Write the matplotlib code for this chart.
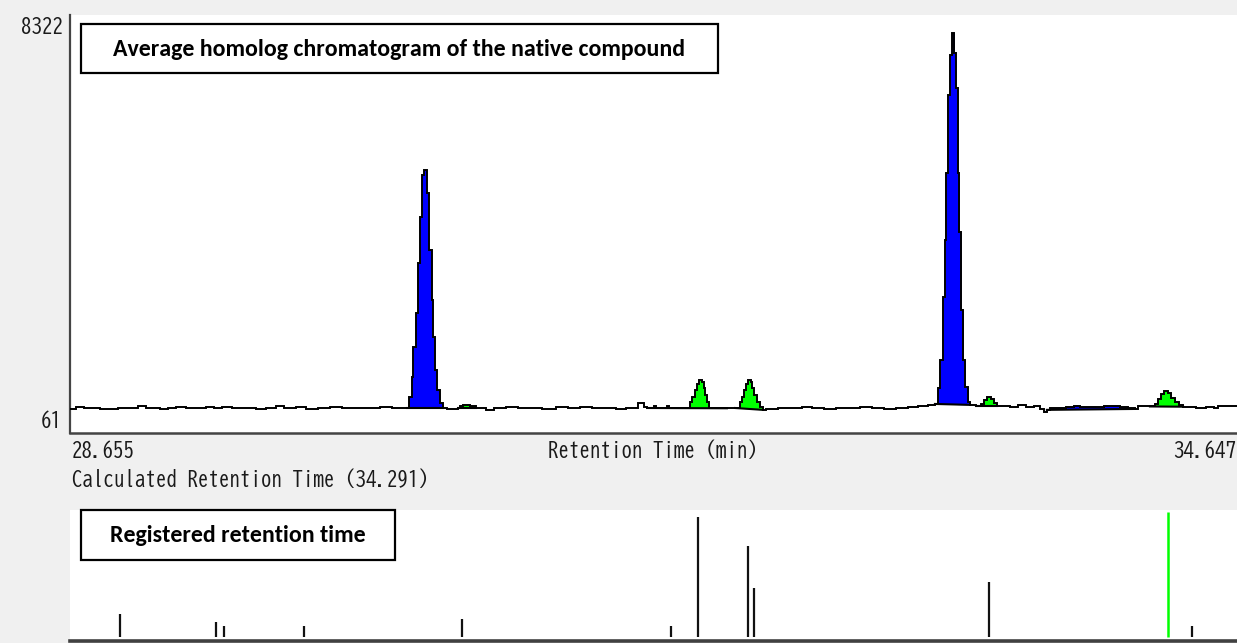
import numpy as np
import matplotlib
matplotlib.use("Agg")
import matplotlib.pyplot as plt
from matplotlib.patches import Rectangle

# ---------------- data ----------------
# averaged homolog chromatogram (step samples: retention time [min], intensity)
rt = [28.655, 28.686, 28.727, 28.809, 28.901, 28.963, 29.004, 29.045, 29.117, 29.158,
      29.199, 29.251, 29.302, 29.353, 29.394, 29.435, 29.487, 29.548, 29.610, 29.661,
      29.713, 29.754, 29.815, 29.867, 29.928, 29.990, 30.052, 30.123, 30.185, 30.247,
      30.308,
      30.384, 30.396, 30.410, 30.418, 30.430, 30.440, 30.452, 30.461, 30.473, 30.486,
      30.500, 30.512, 30.520, 30.529, 30.541, 30.555, 30.570,
      30.591, 30.647, 30.657, 30.673, 30.709, 30.740, 30.791, 30.832, 30.894, 30.955,
      31.017, 31.078, 31.150, 31.212, 31.274, 31.335, 31.397, 31.458, 31.510, 31.572,
      31.602, 31.618, 31.653, 31.664, 31.720, 31.730,
      31.828, 31.838, 31.851, 31.864, 31.874, 31.885, 31.900, 31.908, 31.915, 31.926,
      31.936, 32.028,
      32.070, 32.095, 32.105, 32.116, 32.126, 32.136, 32.152, 32.159, 32.167, 32.183,
      32.198, 32.213,
      32.229, 32.290, 32.352, 32.413, 32.465, 32.526, 32.588, 32.650, 32.711, 32.773,
      32.835, 32.896, 32.958, 33.009, 33.060,
      33.096, 33.110, 33.122, 33.136, 33.148, 33.153, 33.165, 33.173, 33.184, 33.196,
      33.203, 33.212, 33.222, 33.230, 33.242, 33.251, 33.268, 33.276,
      33.307, 33.333, 33.348, 33.363, 33.384, 33.399, 33.415,
      33.481, 33.522, 33.563, 33.604, 33.635, 33.656,
      33.671, 33.687, 33.728, 33.769, 33.810, 33.841, 33.882, 33.923, 33.964, 34.005,
      34.046, 34.087, 34.123,
      34.138, 34.200, 34.226, 34.241, 34.257, 34.272, 34.293, 34.308, 34.329, 34.349,
      34.370, 34.405, 34.436, 34.488, 34.529, 34.549, 34.590, 34.647]
intensity = [40, 90, 60, 45, 50, 70, 95, 60, 40, 55,
             85, 65, 60, 90, 55, 85, 50, 65, 35, 70,
             95, 60, 75, 45, 60, 90, 55, 70, 50, 80,
             55,
             61, 303, 744, 1405, 2154, 3255, 4269, 5194, 5304, 4797,
             3542, 2440, 1625, 898, 458, 171, 61,
             45, 61, 95, 120, 110, 61, 25, 60, 80, 55,
             70, 45, 75, 60, 90, 55, 70, 40, 60, 165,
             80, 61, 95, 61, 95, 61,
             61, 193, 303, 458, 590, 678, 634, 502, 347, 193,
             61, 55,
             61, 193, 303, 458, 590, 678, 634, 502, 347, 193,
             80, 20,
             45, 70, 50, 80, 60, 45, 70, 55, 85, 60,
             40, 65, 85, 110, 125,
             150, 502, 1118, 2506, 3762, 5238, 6957, 7838, 8322, 7882,
             7111, 5238, 3938, 2220, 1118, 524, 193, 130,
             105, 150, 240, 310, 260, 170, 105,
             85, 120, 80, 110, 40, -30,
             20, 60, 70, 85, 100, 80, 90, 75, 95, 100,
             85, 60, 40,
             110, 95, 150, 250, 380, 442, 400, 290, 200, 130,
             90, 80, 60, 90, 70, 110, 115, 115]

# integrated peak windows
region_start = [30.384, 30.647, 31.618, 32.070, 33.096, 33.307, 33.671, 34.200]
region_end = [30.570, 30.740, 32.028, 32.213, 33.276, 33.415, 34.123, 34.370]
region_kind = ["native", "other", "other", "other", "native", "other", "native", "other"]

# registered retention times (relative height, %)
ref_rt = [28.912, 29.403, 29.446, 29.858, 30.669, 31.739, 31.881, 32.138, 32.169, 33.372, 34.418]
ref_height = [18.2, 12.2, 9.1, 9.1, 14.3, 9.1, 93.8, 71.6, 38.8, 43.4, 8.8]
calc_rt = 34.291
calc_height = 98.1

x_min, x_max = 28.655, 34.647
y_min_label, y_max_label = 61, 8322

# ---------------- figure ----------------
W, H = 1237, 643
DPI = 100
BG = "#f0f0f0"
BLUE = "#0000ff"
GREEN = "#00ff00"
TXT = "#1a1a1a"

fig = plt.figure(figsize=(W / DPI, H / DPI), dpi=DPI, facecolor=BG)


def fx(x):
    return x / W


def fy(y):
    return 1 - y / H


# top panel
ax = fig.add_axes([fx(70), fy(433), fx(1237) - fx(70), fy(15) - fy(433)])
ax.set_facecolor("white")
ax.set_xlim(x_min, x_max)
px_per_unit = (408 - 33) / (y_max_label - y_min_label)
ax.set_ylim(y_min_label - 25 / px_per_unit, y_max_label + 18 / px_per_unit)

t = np.asarray(rt, float)
v = np.asarray(intensity, float)
xs = np.repeat(t, 2)[1:]
ys = np.repeat(v, 2)[:-1]


def level_at(time):
    i = np.searchsorted(t, time + 1e-9, side="right") - 1
    return v[max(i, 0)]


for s, e, k in zip(region_start, region_end, region_kind):
    m = (xs >= s - 1e-9) & (xs <= e + 1e-9)
    xm, ym = xs[m], ys[m]
    base = np.interp(xm, [s, e], [level_at(s), level_at(e)])
    ax.fill_between(xm, base, ym, where=ym >= base, interpolate=True,
                    color=BLUE if k == "native" else GREEN, lw=0, zorder=2)
    ax.plot([s, e], [level_at(s), level_at(e)], color="black", lw=1.5, zorder=3)

ax.plot(xs, ys, color="black", lw=1.4, zorder=4, solid_joinstyle="miter")

for sp in ["top", "right"]:
    ax.spines[sp].set_visible(False)
ax.spines["left"].set_color("#444444")
ax.spines["left"].set_linewidth(1.6)
ax.spines["bottom"].set_color("#444444")
ax.spines["bottom"].set_linewidth(1.8)
ax.set_xticks([])
ax.set_yticks([])

# bottom panel
ax2 = fig.add_axes([fx(70), fy(641), fx(1237) - fx(70), fy(509.5) - fy(641)])
ax2.set_facecolor("white")
ax2.set_xlim(x_min, x_max)
ax2.set_ylim(-3.7 / 1.28, 100)
ax2.vlines(ref_rt, 0, ref_height, color="#111111", lw=1.6)
ax2.vlines([calc_rt], 0, [calc_height], color=GREEN, lw=1.8)
for sp in ["top", "right", "left"]:
    ax2.spines[sp].set_visible(False)
ax2.spines["bottom"].set_color("#404040")
ax2.spines["bottom"].set_linewidth(2.6)
ax2.set_xticks([])
ax2.set_yticks([])

# axis texts
lab_font = ["BIZ UDGothic", "DejaVu Sans"]
fs = 15
fig.text(fx(63), fy(25.5), f"{y_max_label}", ha="right", va="center", fontsize=fs,
         family=lab_font, color=TXT)
fig.text(fx(62), fy(419), f"{y_min_label}", ha="right", va="center", fontsize=fs,
         family=lab_font, color=TXT)
fig.text(fx(72), fy(449), f"{x_min:.3f}", ha="left", va="center", fontsize=fs,
         family=lab_font, color=TXT)
fig.text(fx(1236), fy(449), f"{x_max:.3f}", ha="right", va="center", fontsize=fs,
         family=lab_font, color=TXT)
fig.text(fx(653), fy(449), "Retention Time (min)", ha="center", va="center",
         fontsize=fs, family=lab_font, color=TXT)
fig.text(fx(72), fy(478), f"Calculated Retention Time ({calc_rt:.3f})", ha="left",
         va="center", fontsize=fs, family=lab_font, color=TXT)

# annotation boxes
box_font = ["Carlito", "DejaVu Sans"]
fig.add_artist(Rectangle((fx(81), fy(72.7)), fx(718) - fx(81), fy(24) - fy(72.7),
                         transform=fig.transFigure, facecolor="white",
                         edgecolor="black", lw=1.6, zorder=5))
fig.text(fx(399.5), fy(49), "Average homolog chromatogram of the native compound",
         ha="center", va="center", fontsize=17.2, fontweight="bold",
         family=box_font, color="black", zorder=6)
fig.add_artist(Rectangle((fx(81), fy(560)), fx(395) - fx(81), fy(510) - fy(560),
                         transform=fig.transFigure, facecolor="white",
                         edgecolor="black", lw=1.6, zorder=5))
fig.text(fx(238), fy(535), "Registered retention time",
         ha="center", va="center", fontsize=17.2, fontweight="bold",
         family=box_font, color="black", zorder=6)

fig.savefig("out.png", dpi=DPI, facecolor=BG)
